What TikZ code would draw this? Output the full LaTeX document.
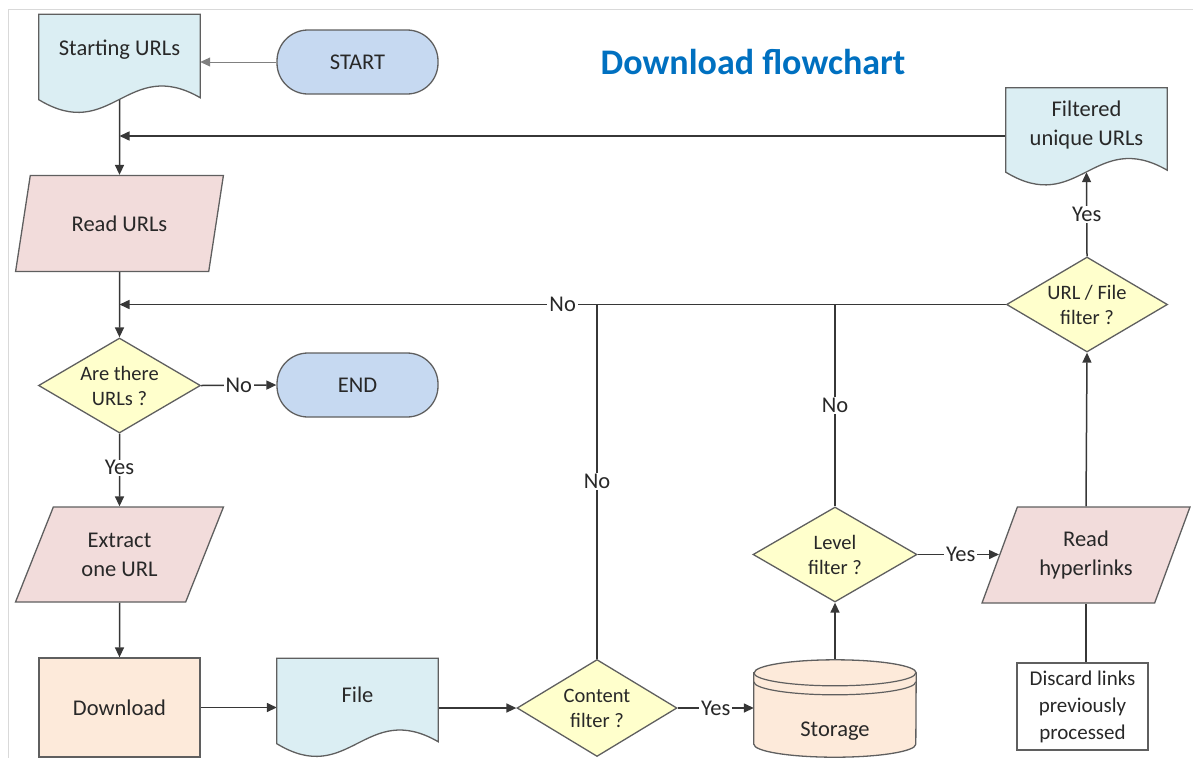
\documentclass[tikz,border=0pt]{standalone}
\usepackage{fontspec}
\setmainfont{Carlito}
\usetikzlibrary{shapes.geometric,arrows.meta,calc}
\pgfdeclarelayer{back}
\pgfdeclarelayer{mid}
\pgfsetlayers{back,mid,main}
\definecolor{docblue}{RGB}{219,238,243}
\definecolor{termblue}{RGB}{198,217,241}
\definecolor{iopink}{RGB}{242,220,219}
\definecolor{decyel}{RGB}{255,255,204}
\definecolor{procpeach}{RGB}{253,234,218}
\definecolor{titleblue}{RGB}{0,112,192}
\definecolor{edgegray}{RGB}{55,55,55}
\definecolor{bordergray}{RGB}{95,95,95}
\definecolor{txt}{RGB}{40,40,40}
\tikzset{
  base/.style={font=\fontsize{22.5}{29}\selectfont, text=txt, align=center, inner sep=0pt},
  term/.style={base, rectangle, rounded corners=31pt, minimum width=161pt, minimum height=64pt, fill=termblue, draw=bordergray, line width=1.3pt},
  dec/.style={base, diamond, aspect=1.7, minimum width=162pt, minimum height=95pt, fill=decyel, draw=bordergray, line width=1.3pt, font=\fontsize{20.5}{25}\selectfont},
  io/.style={base, trapezium, trapezium left angle=63.5, trapezium right angle=116.5, trapezium stretches=true, minimum width=208pt, minimum height=96pt, fill=iopink, draw=bordergray, line width=1.3pt},
  proc/.style={base, rectangle, minimum width=161pt, minimum height=99pt, fill=procpeach, draw=bordergray, line width=1.3pt},
  docbox/.style={base, rectangle, minimum width=161pt, minimum height=85pt},
  docline/.style={fill=docblue, draw=bordergray, line width=1.3pt},
  cylline/.style={fill=procpeach, draw=bordergray, line width=1.3pt},
  notebox/.style={base, rectangle, minimum width=131pt, minimum height=87pt, fill=white, draw=bordergray, line width=1.2pt, font=\fontsize{21}{27}\selectfont},
  conn/.style={draw=edgegray, line width=1.5pt, -{Triangle[length=10pt,width=9pt]}},
  plainline/.style={draw=edgegray, line width=1.5pt},
  thinconn/.style={draw=gray, line width=0.9pt, -{Triangle[length=10pt,width=9pt]}},
  lbl/.style={base, fill=white, inner xsep=2pt, inner ysep=1pt}
}
\newcommand\docwave[1]{%
  \path[docline] (#1.north west) -- (#1.north east) -- ($(#1.south east)+(0,-2)$)
    .. controls ($(#1.south west)+(88.5,-44)$) and ($(#1.south west)+(72.5,44)$) .. (#1.south west) -- cycle;}
\begin{document}
\begin{tikzpicture}[x={(1pt,0)}, y={(0,-1pt)}]
\useasboundingbox (0,0) rectangle (1193,758);
\draw[black!15, line width=1pt] (1193,9) -- (8,9) -- (8,758);

\node[font=\fontsize{36}{40}\selectfont\bfseries, text=titleblue, inner sep=0pt] (title) at (753,62) {Download flowchart};

% nodes
\node[docbox, label={[base,yshift=7pt]center:Starting URLs}] (surls) at (119.5,57) {};
\node[term] (start) at (357.5,62) {START};
\node[io] (readurls) at (119.5,223.5) {Read URLs};
\node[dec] (are) at (119.5,385.5) {Are there\\URLs ?};
\node[term] (end) at (357.5,385) {END};
\node[io, minimum height=95pt] (extract) at (119.5,554.5) {Extract\\one URL};
\node[proc] (download) at (119.5,707.5) {Download};
\node[docbox, label={[base,yshift=6pt]center:File}] (file) at (357.5,701) {};
\node[dec, minimum width=160pt, minimum height=97pt] (cf) at (597,708) {Content\\filter ?};
\node[docbox, minimum width=162pt, minimum height=97pt, label={[base,yshift=-23pt]center:Storage}] (stor) at (835,708.5) {};
\node[dec, minimum width=164pt] (lf) at (835,554.5) {Level\\filter ?};
\node[io, minimum height=96pt] (rh) at (1086,555) {Read\\hyperlinks};
\node[notebox] (disc) at (1082.5,706.5) {Discard links\\previously\\processed};
\node[dec, minimum width=161pt] (uf) at (1087,304.5) {URL / File\\filter ?};
\node[docbox, minimum width=161pt, minimum height=84pt, label={[base,yshift=5pt]center:Filtered\\unique URLs}] (fu) at (1086.5,130) {};

% custom outlines
\begin{pgfonlayer}{mid}
\docwave{surls}
\docwave{file}
\docwave{fu}
\path[cylline] ($(stor.north west)+(0,13)$) -- ($(stor.south west)+(0,-13)$)
  arc[start angle=180, end angle=0, x radius=81, y radius=13]
  -- ($(stor.north east)+(0,13)$)
  arc[start angle=0, end angle=-180, x radius=81, y radius=13] -- cycle;
\draw[bordergray, line width=1.2pt] ($(stor.north west)+(0,13)$) arc[start angle=180, end angle=0, x radius=81, y radius=13];
\draw[bordergray, line width=1.2pt] ($(stor.north west)+(0,22)$) arc[start angle=180, end angle=0, x radius=81, y radius=13];
\end{pgfonlayer}

% connectors
\begin{pgfonlayer}{back}
\coordinate (fuw) at ($(fu.west)+(0,6)$);
\draw[thinconn] (start.west) -- (start.west -| surls.east);
\draw[conn] (surls.center) -- (readurls.north);
\draw[conn] (fuw) -- (fuw -| surls.south);
\draw[conn] (readurls.south) -- (are.north);
\draw[conn] (uf.west) -- node[lbl]{No} (uf.west -| are.north);
\draw[conn] (are.east) -- node[lbl]{No} (end.west);
\draw[conn] (are.south) -- node[lbl, pos=0.47]{Yes} (extract.north);
\draw[conn] (extract.south) -- (download.north);
\draw[conn] (download.east) -- (download.east -| file.west);
\draw[conn] (file.east |- cf.west) -- (cf.west);
\draw[conn] (cf.east) -- node[lbl]{Yes} (cf.east -| stor.west);
\draw[plainline] (cf.north) -- node[lbl]{No} (cf.north |- uf.west);
\draw[conn] (stor.north) -- (lf.south);
\draw[plainline] (lf.north) -- node[lbl]{No} (lf.north |- uf.west);
\draw[conn] (lf.east) -- node[lbl, pos=0.53]{Yes} (lf.east -| rh.west);
\draw[plainline] (rh.south |- disc.north) -- (rh.south);
\draw[conn] (rh.north) -- (uf.south);
\draw[conn] (uf.north) -- node[lbl]{Yes} (fu.south);
\end{pgfonlayer}
\end{tikzpicture}
\end{document}
